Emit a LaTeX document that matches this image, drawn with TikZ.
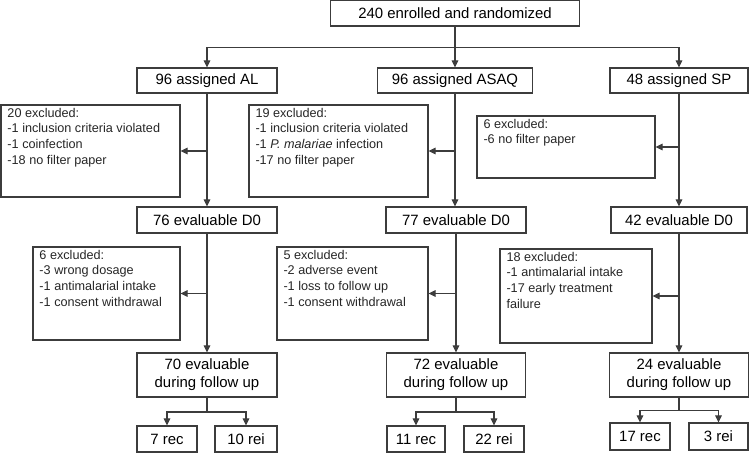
\documentclass[tikz,border=0pt]{standalone}
\usepackage{fontspec}
\setmainfont{Liberation Sans}
\usetikzlibrary{arrows.meta,positioning,calc}
\definecolor{flowline}{HTML}{3C3C3C}
\tikzset{
  >={Triangle[length=1.4mm,width=1.3mm]},
  every picture/.style={line width=0.6pt},
  box/.style={draw=flowline, inner sep=0pt, minimum height=5.2mm, align=center,
    font=\fontsize{8.5}{10.2}\selectfont},
  exclbox/.style={draw=flowline, inner sep=0pt},
  excltext/.style={anchor=north west, align=left, inner xsep=1.3mm, inner ysep=0.6mm,
    text=black!85, font=\fontsize{7.2}{8.9}\selectfont},
  arrow/.style={->, draw=flowline}
}

\begin{document}
\begin{tikzpicture}[x=0.2mm,y=-0.2mm]
  \useasboundingbox (0,0) rectangle (750,453);

  % randomization
  \node[box, minimum width=49.8mm] (top) at (455,13) {240 enrolled and randomized};
  \node[box, minimum width=28mm, minimum height=5mm] (al) at (207,80.5) {96 assigned AL};
  \node[box, minimum width=31mm, minimum height=5mm] (asaq) at (455,80.5) {96 assigned ASAQ};
  \node[box, minimum width=27.6mm, minimum height=5mm] (sp) at (679,80.5) {48 assigned SP};

  \draw[arrow] (top) -- (asaq);
  \draw[arrow] (top.south) -- ++(0,21) -| (al);
  \draw[arrow] (top.south) -- ++(0,21) -| (sp);

  % first exclusions
  \node[exclbox, minimum width=35.8mm, minimum height=18.4mm] (exal) at (90.5,151) {};
  \node[excltext] (exal-txt) at (exal.north west)
    {20 excluded:\\-1 inclusion criteria violated\\-1 coinfection\\-18 no filter paper};
  \node[exclbox, minimum width=35.8mm, minimum height=18.4mm] (exasaq) at (338.5,151) {};
  \node[excltext] (exasaq-txt) at (exasaq.north west)
    {19 excluded:\\-1 inclusion criteria violated\\-1 \textit{P. malariae} infection\\-17 no filter paper};
  \node[exclbox, minimum width=35.6mm, minimum height=12.4mm] (exsp) at (566,147) {};
  \node[excltext] (exsp-txt) at (exsp.north west)
    {6 excluded:\\-6 no filter paper};

  \node[box, minimum width=28mm] (d0al) at (207,220) {76 evaluable D0};
  \node[box, minimum width=28mm] (d0asaq) at (456,220) {77 evaluable D0};
  \node[box, minimum width=27.2mm] (d0sp) at (679,220) {42 evaluable D0};

  \draw[arrow] (al) -- (d0al);
  \draw[arrow] (asaq.south) -- (asaq.south |- d0asaq.north);
  \draw[arrow] (sp) -- (d0sp);
  \draw[arrow] (al.south |- exal.east) -- (exal);
  \draw[arrow] (asaq.south |- exasaq.east) -- (exasaq);
  \draw[arrow] (sp.south |- exsp.east) -- (exsp);

  % second exclusions
  \node[exclbox, minimum width=29.4mm, minimum height=18.6mm] (exal2) at (106.5,293.5) {};
  \node[excltext] (exal2-txt) at (exal2.north west)
    {6 excluded:\\-3 wrong dosage\\-1 antimalarial intake\\-1 consent withdrawal};
  \node[exclbox, minimum width=30.2mm, minimum height=18.6mm] (exasaq2) at (352.5,293.5) {};
  \node[excltext] (exasaq2-txt) at (exasaq2.north west)
    {5 excluded:\\-2 adverse event\\-1 loss to follow up\\-1 consent withdrawal};
  \node[exclbox, minimum width=30.4mm, minimum height=18.8mm] (exsp2) at (576,296) {};
  \node[excltext] (exsp2-txt) at (exsp2.north west)
    {18 excluded:\\-1 antimalarial intake\\-17 early treatment\\failure};

  \node[box, minimum width=28mm, minimum height=8.8mm] (fual) at (207,375) {70 evaluable\\during follow up};
  \node[box, minimum width=27.8mm, minimum height=8.8mm] (fuasaq) at (456,375) {72 evaluable\\during follow up};
  \node[box, minimum width=27.8mm, minimum height=8.8mm] (fusp) at (679,375) {24 evaluable\\during follow up};

  \draw[arrow] (d0al) -- (fual);
  \draw[arrow] (d0asaq) -- (fuasaq);
  \draw[arrow] (d0sp) -- (fusp);
  \draw[arrow] (d0al.south |- exal2.east) -- (exal2);
  \draw[arrow] (d0asaq.south |- exasaq2.east) -- (exasaq2);
  \draw[arrow] (d0sp.south |- exsp2.east) -- (exsp2);

  % outcomes
  \node[box, minimum width=12mm] (recal) at (167,439) {7 rec};
  \node[box, minimum width=12.4mm] (reial) at (246,439) {10 rei};
  \node[box, minimum width=11.6mm] (recasaq) at (416,439) {11 rec};
  \node[box, minimum width=12mm] (reiasaq) at (494,439) {22 rei};
  \node[box, minimum width=12mm, minimum height=5.4mm] (recsp) at (640,436.5) {17 rec};
  \node[box, minimum width=11.8mm, minimum height=5.4mm] (reisp) at (718.5,436.5) {3 rei};

  \draw[arrow] (fual.south) -- ++(0,14.5) -| (recal);
  \draw[arrow] (fual.south) -- ++(0,14.5) -| (reial);
  \draw[arrow] (fuasaq.south) -- ++(0,14.5) -| (recasaq);
  \draw[arrow] (fuasaq.south) -- ++(0,14.5) -| (reiasaq);
  \draw[arrow] (fusp.south) -- ++(0,13) -| (recsp);
  \draw[arrow] (fusp.south) -- ++(0,13) -| (reisp);
\end{tikzpicture}
\end{document}
